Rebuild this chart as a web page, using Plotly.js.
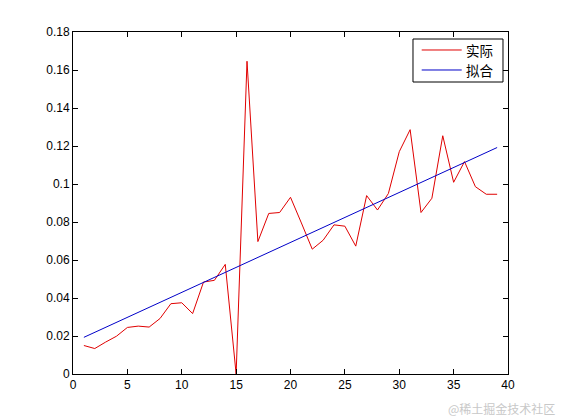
<!DOCTYPE html>
<html>
<head>
<meta charset="utf-8">
<script src="https://cdn.plot.ly/plotly-3.0.1.min.js"></script>
<style>html,body{margin:0;padding:0;background:#fff;}#chart{width:561px;height:420px;}</style>
</head>
<body>
<div id="chart"></div>
<script>
const xActual = [1,2,3,4,5,6,7,8,9,10,11,12,13,14,15,16,17,18,19,20,21,22,23,24,25,26,27,28,29,30,31,32,33,34,35,36,37,38,39];
const yActual = [0.0150,0.0134,0.0168,0.0199,0.0245,0.0252,0.0247,0.0292,0.0370,0.0375,0.0318,0.0484,0.0493,0.0577,0.0,0.1646,0.0697,0.0845,0.0850,0.0930,0.0795,0.0657,0.0704,0.0785,0.0778,0.0673,0.0939,0.0863,0.0950,0.1170,0.1286,0.0850,0.0925,0.1254,0.1009,0.1118,0.0986,0.0946,0.0946];
const xFit = [1, 39];
const yFit = [0.0193, 0.1192];
const xTicks = [0,5,10,15,20,25,30,35,40];
const yTicks = [0,0.02,0.04,0.06,0.08,0.1,0.12,0.14,0.16,0.18];
const yTickText = ['0','0.02','0.04','0.06','0.08','0.1','0.12','0.14','0.16','0.18'];
const seriesNames = ['实际','拟合'];
const seriesColors = ['#e00000','#0000c8'];
const watermark = '@稀土掘金技术社区';

const traces = [
  {x: xActual, y: yActual, name: seriesNames[0], type: 'scatter', mode: 'lines', line: {color: seriesColors[0], width: 1}},
  {x: xFit, y: yFit, name: seriesNames[1], type: 'scatter', mode: 'lines', line: {color: seriesColors[1], width: 1}}
];
const axisCommon = {
  showgrid: false, zeroline: false, showline: true, linecolor: '#000', linewidth: 1,
  mirror: 'ticks', ticks: 'inside', ticklen: 5, tickcolor: '#000', tickwidth: 1,
  tickfont: {family: 'Liberation Sans, Arial, sans-serif', size: 12, color: '#000'}
};

// Legend box drawn in paper coordinates (MATLAB-style compact legend)
const legBox = {x0: 0.7816, x1: 0.9885, y0: 0.8538, y1: 0.9795};
const legRowY = [0.9474, 0.8889];
const legLineX = [0.8016, 0.8936];
const legTextX = 0.9011;
const shapes = [{type: 'rect', xref: 'paper', yref: 'paper', x0: legBox.x0, x1: legBox.x1, y0: legBox.y0, y1: legBox.y1,
  line: {color: '#000', width: 1}, fillcolor: '#fff', layer: 'above'}];
const annotations = [];
seriesNames.forEach((n, i) => {
  shapes.push({type: 'line', xref: 'paper', yref: 'paper', x0: legLineX[0], x1: legLineX[1], y0: legRowY[i], y1: legRowY[i],
    line: {color: seriesColors[i], width: 1}, layer: 'above'});
  annotations.push({text: n, xref: 'paper', yref: 'paper', x: legTextX, y: legRowY[i], xanchor: 'left', yanchor: 'middle',
    showarrow: false, borderpad: 0,
    font: {family: 'Noto Sans CJK SC, sans-serif', size: 13.5, color: '#000'}});
});
annotations.push({
  text: watermark, xref: 'paper', yref: 'paper', x: 1.113, y: -0.102,
  xanchor: 'right', yanchor: 'middle', showarrow: false,
  font: {family: 'Noto Sans CJK SC, sans-serif', size: 12, color: '#c8c8c8'}
});

const layout = {
  width: 561, height: 420,
  margin: {l: 73, r: 53, t: 32, b: 46},
  paper_bgcolor: '#fff', plot_bgcolor: '#fff',
  showlegend: false,
  xaxis: Object.assign({}, axisCommon, {range: [0, 40], tickvals: xTicks, ticktext: xTicks.map(String)}),
  yaxis: Object.assign({}, axisCommon, {range: [0, 0.18], tickvals: yTicks, ticktext: yTickText}),
  shapes: shapes,
  annotations: annotations
};
Plotly.newPlot('chart', traces, layout, {displayModeBar: false, staticPlot: true});
</script>
</body>
</html>
